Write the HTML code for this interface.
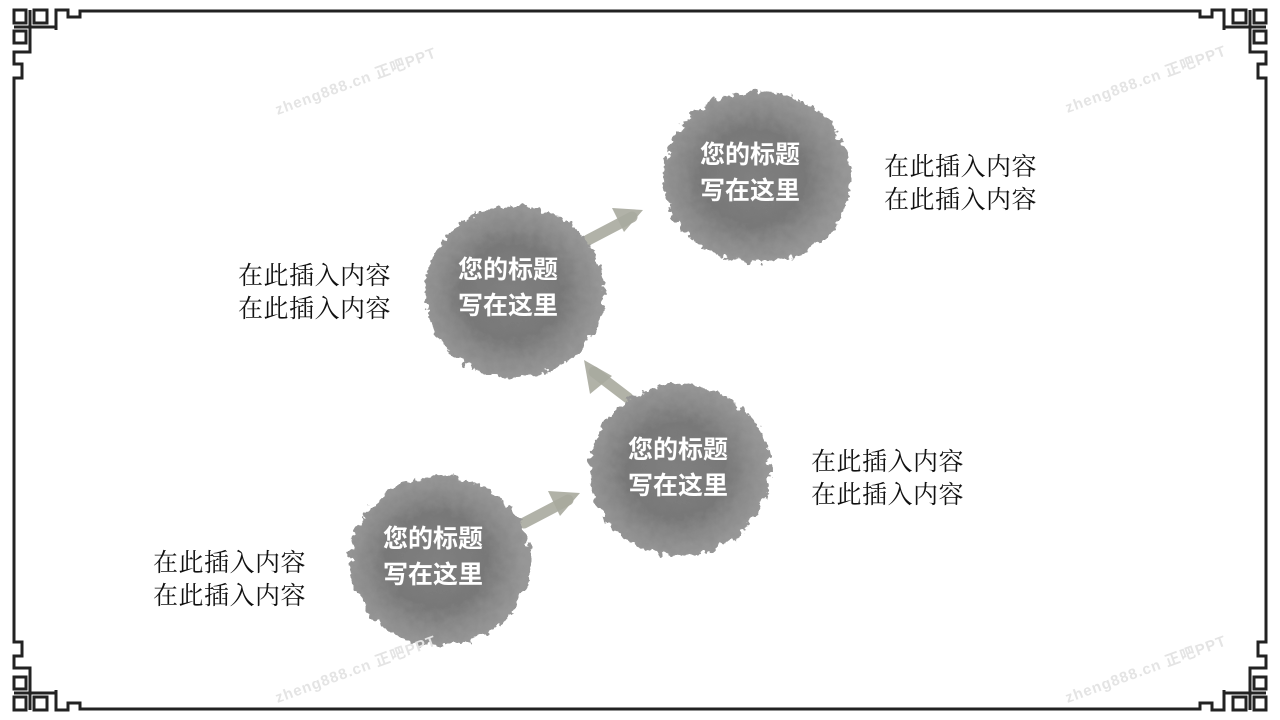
<!DOCTYPE html>
<html><head><meta charset="utf-8"><style>
html,body{margin:0;padding:0;background:#fff}
body{width:1280px;height:720px;position:relative;overflow:hidden}
svg{position:absolute;left:0;top:0}
.t{position:absolute;font-family:"Liberation Serif","Noto Serif CJK SC",serif;font-size:25px;line-height:33px;color:#111;white-space:nowrap;letter-spacing:0.5px}
.h{position:absolute;font-family:"Liberation Sans","Noto Sans CJK SC",sans-serif;font-weight:bold;font-size:25px;line-height:36px;color:#fff;white-space:nowrap}
.w{position:absolute;font-family:"Liberation Sans","Noto Sans CJK SC",sans-serif;font-weight:bold;font-size:15px;color:#e4e4e4;transform:rotate(-20deg);transform-origin:left top;white-space:nowrap;letter-spacing:1px}
</style></head><body>
<svg width="1280" height="720" viewBox="0 0 1280 720">
<defs>
<filter id="ragged" x="-20%" y="-20%" width="140%" height="140%">
<feTurbulence type="fractalNoise" baseFrequency="0.12" numOctaves="3" seed="3"/>
<feDisplacementMap in="SourceGraphic" scale="14" xChannelSelector="R" yChannelSelector="G"/>
</filter>
<radialGradient id="ink" cx="0.48" cy="0.5" r="0.5">
<stop offset="0" stop-color="#808080"/>
<stop offset="0.55" stop-color="#787878"/>
<stop offset="0.75" stop-color="#888"/>
<stop offset="1" stop-color="#979797"/>
</radialGradient>
<g id="corner" fill="none" stroke="#222" stroke-width="3">
<path d="M14,90 L14,78 L22,78 L22,64 L14,64 L14,52 L30,52 L30,10 M14,27 L56,27 M82,11 L80,11 L80,17 L68,17 L68,10 L56,10 L56,30"/>
<rect x="14" y="10" width="12" height="13"/>
<rect x="34" y="10" width="13" height="13"/>
<rect x="14" y="31" width="12" height="12"/>
</g>
</defs>
<g fill="none" stroke="#222" stroke-width="3">
<line x1="80" y1="11" x2="1200" y2="11"/>
<line x1="80" y1="709" x2="1200" y2="709"/>
<line x1="14" y1="88" x2="14" y2="632"/>
<line x1="1266" y1="88" x2="1266" y2="632"/>
</g>
<use href="#corner"/>
<use href="#corner" transform="translate(1280,0) scale(-1,1)"/>
<use href="#corner" transform="translate(0,720) scale(1,-1)"/>
<use href="#corner" transform="translate(1280,720) scale(-1,-1)"/>
<g stroke="#a9aa9e" stroke-width="11" stroke-linecap="round" fill="none" opacity="0.9">
<line x1="588" y1="240" x2="632" y2="217"/>
<line x1="628" y1="398" x2="594" y2="372"/>
<line x1="524" y1="523" x2="568" y2="500"/>
</g>
<g fill="#a9aa9e" opacity="0.9">
<polygon points="643,210 612,208 624,232"/>
<polygon points="584,360 590,394 612,376"/>
<polygon points="580,493 548,491 560,516"/>
</g>
<g filter="url(#ragged)">
<ellipse cx="757" cy="177" rx="94" ry="86" fill="url(#ink)"/>
<ellipse cx="515" cy="292" rx="90" ry="86" fill="url(#ink)"/>
<ellipse cx="680" cy="470" rx="90" ry="86" fill="url(#ink)"/>
<ellipse cx="440" cy="561" rx="90" ry="85" fill="url(#ink)"/>
</g>
</svg>
<div class="w" style="left:272px;top:100px">zheng888.cn 正吧PPT</div>
<div class="w" style="left:1062px;top:98px">zheng888.cn 正吧PPT</div>
<div class="w" style="left:272px;top:688px">zheng888.cn 正吧PPT</div>
<div class="w" style="left:1062px;top:688px">zheng888.cn 正吧PPT</div>
<div class="h" style="left:700px;top:137px">您的标题<br>写在这里</div>
<div class="h" style="left:458px;top:252px">您的标题<br>写在这里</div>
<div class="h" style="left:628px;top:432px">您的标题<br>写在这里</div>
<div class="h" style="left:383px;top:521px">您的标题<br>写在这里</div>
<div class="t" style="left:884px;top:151px">在此插入内容<br>在此插入内容</div>
<div class="t" style="left:238px;top:260px">在此插入内容<br>在此插入内容</div>
<div class="t" style="left:811px;top:446px">在此插入内容<br>在此插入内容</div>
<div class="t" style="left:153px;top:547px">在此插入内容<br>在此插入内容</div>
</body></html>
